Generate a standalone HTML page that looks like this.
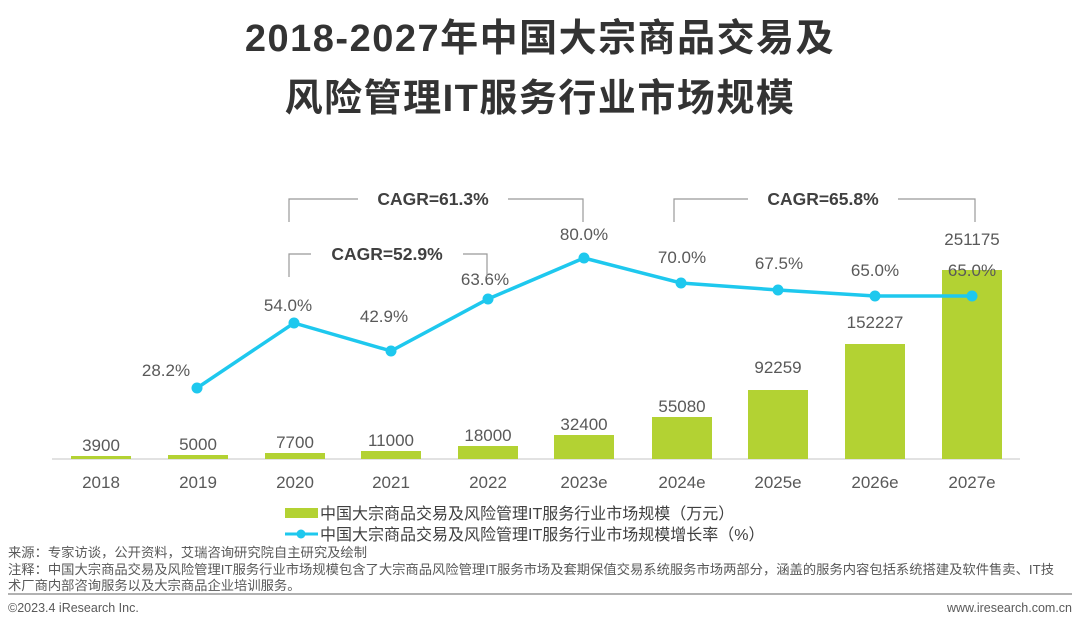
<!DOCTYPE html>
<html><head><meta charset="utf-8"><style>
body{margin:0;width:1080px;height:628px;background:#fff;overflow:hidden;font-family:"Liberation Sans","Noto Sans CJK SC",sans-serif;}
</style></head><body>
<svg width="1080" height="628" xmlns="http://www.w3.org/2000/svg" font-family="Liberation Sans, Noto Sans CJK SC, sans-serif">
<text x="540" y="51" text-anchor="middle" font-size="38" font-weight="bold" fill="#333" letter-spacing="1.5">2018-2027年中国大宗商品交易及</text>
<text x="540" y="111" text-anchor="middle" font-size="38" font-weight="bold" fill="#333" letter-spacing="1.5">风险管理IT服务行业市场规模</text>
<line x1="52" y1="459" x2="1020" y2="459" stroke="#d9d9d9" stroke-width="1.5"/>
<g fill="#b3d233">
<rect x="71" y="456" width="60" height="3"/>
<rect x="168" y="455" width="60" height="4"/>
<rect x="265" y="453" width="60" height="6"/>
<rect x="361" y="451" width="60" height="8"/>
<rect x="458" y="446" width="60" height="13"/>
<rect x="554" y="435" width="60" height="24"/>
<rect x="652" y="417" width="60" height="42"/>
<rect x="748" y="390" width="60" height="69"/>
<rect x="845" y="344" width="60" height="115"/>
<rect x="942" y="270" width="60" height="189"/>
</g>
<g font-size="17" fill="#595959" text-anchor="middle">
<text x="101" y="451">3900</text><text x="198" y="450">5000</text><text x="295" y="448">7700</text>
<text x="391" y="446">11000</text><text x="488" y="441">18000</text><text x="584" y="430">32400</text>
<text x="682" y="412">55080</text><text x="778" y="373">92259</text><text x="875" y="328">152227</text><text x="972" y="245">251175</text>
</g>
<g font-size="17" fill="#595959" text-anchor="middle">
<text x="101" y="488">2018</text><text x="198" y="488">2019</text><text x="295" y="488">2020</text><text x="391" y="488">2021</text><text x="488" y="488">2022</text>
<text x="584" y="488">2023e</text><text x="682" y="488">2024e</text><text x="778" y="488">2025e</text><text x="875" y="488">2026e</text><text x="972" y="488">2027e</text>
</g>
<polyline points="197,388 294,323 391,351 488,299 584,258 681,283 778,290 875,296 972,296" fill="none" stroke="#1ec8ee" stroke-width="3.5"/>
<g fill="#1ec8ee">
<circle cx="197" cy="388" r="5.5"/><circle cx="294" cy="323" r="5.5"/><circle cx="391" cy="351" r="5.5"/><circle cx="488" cy="299" r="5.5"/><circle cx="584" cy="258" r="5.5"/><circle cx="681" cy="283" r="5.5"/><circle cx="778" cy="290" r="5.5"/><circle cx="875" cy="296" r="5.5"/><circle cx="972" cy="296" r="5.5"/>
</g>
<g font-size="17" fill="#595959" text-anchor="middle">
<text x="166" y="376">28.2%</text><text x="288" y="311">54.0%</text><text x="384" y="322">42.9%</text><text x="485" y="285">63.6%</text>
<text x="584" y="240">80.0%</text><text x="682" y="263">70.0%</text><text x="779" y="269">67.5%</text><text x="875" y="276">65.0%</text><text x="972" y="276">65.0%</text>
</g>
<g stroke="#999" stroke-width="1.2" fill="none">
<polyline points="289,222 289,199 358,199"/><polyline points="508,199 583,199 583,222"/>
<polyline points="289,277 289,254 311,254"/><polyline points="463,254 487,254 487,277"/>
<polyline points="674,222 674,199 748,199"/><polyline points="898,199 975,199 975,222"/>
</g>
<g font-size="17.5" font-weight="bold" fill="#404040" text-anchor="middle">
<text x="433" y="205">CAGR=61.3%</text><text x="387" y="260">CAGR=52.9%</text><text x="823" y="205">CAGR=65.8%</text>
</g>
<rect x="285" y="508" width="33" height="10" fill="#b3d233"/>
<text x="320" y="519" font-size="16" fill="#404040">中国大宗商品交易及风险管理IT服务行业市场规模（万元）</text>
<line x1="285" y1="534" x2="318" y2="534" stroke="#1ec8ee" stroke-width="3"/>
<circle cx="301" cy="534" r="4.5" fill="#1ec8ee"/>
<text x="320" y="540" font-size="16" fill="#404040">中国大宗商品交易及风险管理IT服务行业市场规模增长率（%）</text>
<g font-size="13.3" fill="#595959">
<text x="8" y="557">来源：专家访谈，公开资料，艾瑞咨询研究院自主研究及绘制</text>
<text x="8" y="574">注释：中国大宗商品交易及风险管理IT服务行业市场规模包含了大宗商品风险管理IT服务市场及套期保值交易系统服务市场两部分，涵盖的服务内容包括系统搭建及软件售卖、IT技</text>
<text x="8" y="590">术厂商内部咨询服务以及大宗商品企业培训服务。</text>
</g>
<g font-size="12.5" fill="#595959">
<text x="8" y="612">©2023.4 iResearch Inc.</text>
<text x="1072" y="612" text-anchor="end">www.iresearch.com.cn</text>
</g>
<line x1="8" y1="594" x2="1072" y2="594" stroke="#999" stroke-width="1.5"/>
</svg>
</body></html>
